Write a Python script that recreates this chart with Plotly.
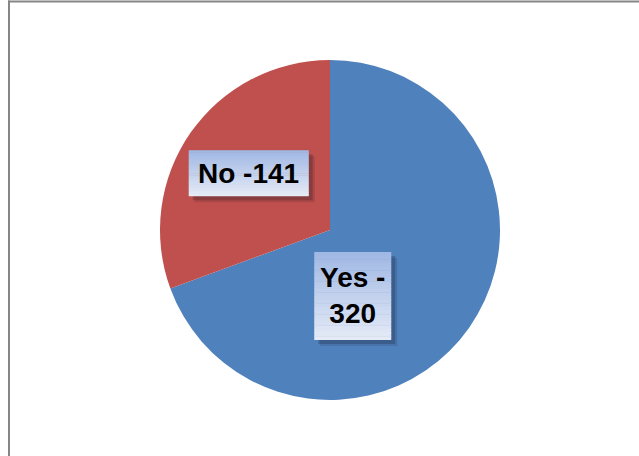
import math
import plotly.graph_objects as go

# Survey answers
categories = ["Yes", "No"]
counts = [320, 141]
colors = ["#4F81BD", "#C0504D"]

W, H = 639, 456
cx, cy, r = 330, 230, 170  # pie centre / radius in pixels

fig = go.Figure(go.Pie(
    labels=categories,
    values=counts,
    marker=dict(colors=colors, line=dict(width=0)),
    sort=False,
    direction="clockwise",
    rotation=0,
    textinfo="none",
    hoverinfo="label+value",
    showlegend=False,
    domain=dict(x=[(cx - r) / W, (cx + r) / W],
                y=[1 - (cy + r) / H, 1 - (cy - r) / H]),
))

# Mid-angle of every slice (clockwise from 12 o'clock)
total = sum(counts)
start = 0.0
mid_angle = {}
for cat, v in zip(categories, counts):
    sweep = 360.0 * v / total
    mid_angle[cat] = start + sweep / 2
    start += sweep

# Label callouts: angle offset from slice middle, radius fraction, box size (px)
placement = {
    "Yes": dict(dang=36.0, frac=0.41, w=77, h=88),
    "No": dict(dang=0.0, frac=0.583, w=120, h=46),
}
texts = {"Yes": f"Yes -<br>{counts[0]}", "No": f"No -{counts[1]}"}

top_rgb = (160, 184, 228)
bot_rgb = (228, 234, 246)
n_strips = 24

font = dict(family="Liberation Sans, Arial, sans-serif", size=28, color="#000000")
annotations = []
shapes = []


def px_to_paper(x, y):
    return x / W, 1 - y / H


for cat in categories:
    p = placement[cat]
    a = math.radians(mid_angle[cat] + p["dang"])
    px = cx + p["frac"] * r * math.sin(a)
    py = cy - p["frac"] * r * math.cos(a)
    x0, x1 = px - p["w"] / 2, px + p["w"] / 2
    y0, y1 = py - p["h"] / 2, py + p["h"] / 2

    # soft drop shadow (two layers)
    for off, alpha in ((6, 0.12), (4, 0.22)):
        ax0, ay0 = px_to_paper(x0 + off, y0 + off)
        ax1, ay1 = px_to_paper(x1 + off, y1 + off)
        shapes.append(dict(type="rect", xref="paper", yref="paper",
                           x0=ax0, x1=ax1, y0=ay1, y1=ay0,
                           fillcolor=f"rgba(20,20,30,{alpha})", line=dict(width=0)))

    # vertical gradient fill
    for i in range(n_strips):
        t = i / (n_strips - 1)
        col = tuple(round(top_rgb[k] + (bot_rgb[k] - top_rgb[k]) * t) for k in range(3))
        sy0 = y0 + p["h"] * i / n_strips
        sy1 = y0 + p["h"] * (i + 1) / n_strips + 0.6
        ax0, ay0 = px_to_paper(x0, sy0)
        ax1, ay1 = px_to_paper(x1, min(sy1, y1))
        shapes.append(dict(type="rect", xref="paper", yref="paper",
                           x0=ax0, x1=ax1, y0=ay1, y1=ay0,
                           fillcolor="rgb(%d,%d,%d)" % col, line=dict(width=0)))

    ax, ay = px_to_paper(px, py)
    annotations.append(dict(
        x=ax, y=ay, xref="paper", yref="paper", text=f"<b>{texts[cat]}</b>",
        showarrow=False, font=font,
    ))

# chart-area frame edges
shapes += [
    dict(type="line", xref="paper", yref="paper", x0=8 / W, x1=1, y0=1 - 1.5 / H, y1=1 - 1.5 / H,
         line=dict(color="#868686", width=2)),
    dict(type="line", xref="paper", yref="paper", x0=9 / W, x1=9 / W, y0=0, y1=1 - 0.5 / H,
         line=dict(color="#868686", width=2)),
]

fig.update_layout(
    width=W, height=H,
    margin=dict(l=0, r=0, t=0, b=0),
    paper_bgcolor="white",
    plot_bgcolor="white",
    annotations=annotations,
    shapes=shapes,
)

fig.write_html("out.html")
